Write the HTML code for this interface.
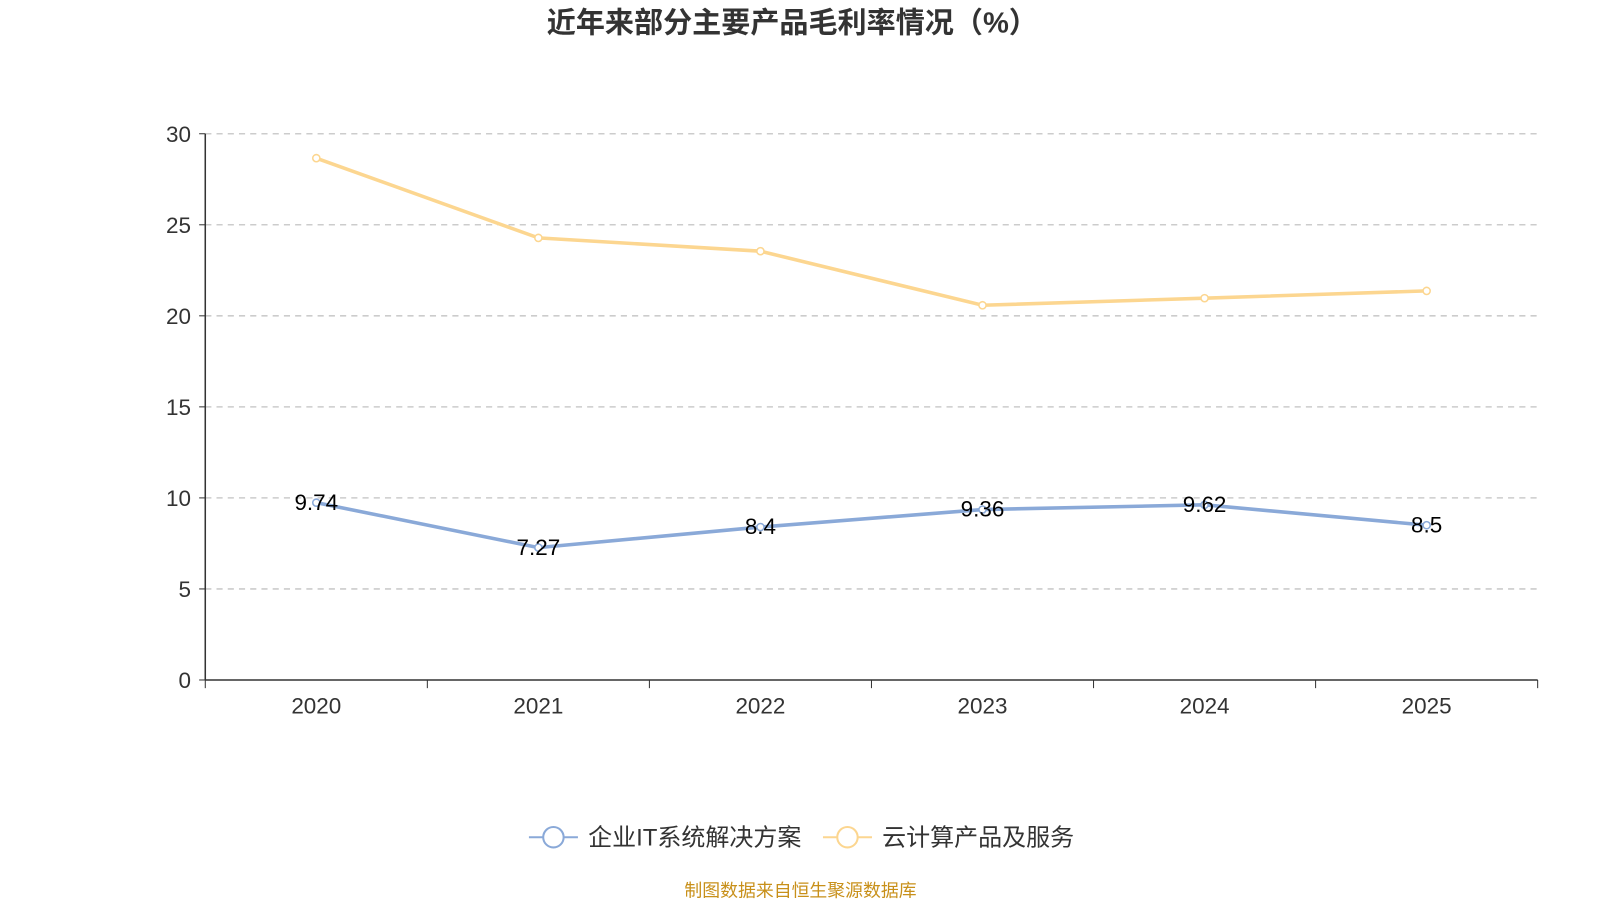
<!DOCTYPE html>
<html><head><meta charset="utf-8"><style>
body{margin:0;background:#fff;font-family:"Liberation Sans","Noto Sans CJK SC",sans-serif}
svg text{font-family:"Liberation Sans","Noto Sans CJK SC",sans-serif}
svg{display:block}
</style></head><body>
<svg id="c" width="1600" height="900" viewBox="0 0 1567 881.5">
<text x="776" y="32" text-anchor="middle" font-size="28.5" font-weight="bold" fill="#333">近年来部分主要产品毛利率情况（%）</text>
<g id="grid"></g><g id="axes"></g><g id="series"></g>
<g>
<g>
<line x1="518" y1="820" x2="566" y2="820" stroke="#8aa9d8" stroke-width="2"/>
<circle cx="542" cy="820" r="10" fill="#fff" stroke="#8aa9d8" stroke-width="2"/>
<text x="576" y="828" font-size="23.5" fill="#333">企业IT系统解决方案</text></g>
<g>
<line x1="806" y1="820" x2="854" y2="820" stroke="#fcd690" stroke-width="2"/>
<circle cx="830" cy="820" r="10" fill="#fff" stroke="#fcd690" stroke-width="2"/>
<text x="864" y="828" font-size="23.5" fill="#333">云计算产品及服务</text></g>
</g>
<text x="784" y="878" text-anchor="middle" font-size="17.5" fill="#c8901a">制图数据来自恒生聚源数据库</text>
</svg>
<script>
const categories=["2020","2021","2022","2023","2024","2025"];
const itValues=[9.74,7.27,8.4,9.36,9.62,8.5];
const cloudValues=[28.66,24.28,23.55,20.58,20.97,21.37];
const yTicks=[0,5,10,15,20,25,30];
const NS="http://www.w3.org/2000/svg";
const L=201,R=1506,T=131,B=666,ymax=30;
const bw=(R-L)/categories.length;
const x=i=>L+bw*(i+0.5);
const y=v=>B-(v/ymax)*(B-T);
function mk(p,t,a){const e=document.createElementNS(NS,t);for(const k in a)e.setAttribute(k,a[k]);p.appendChild(e);return e;}
const g=document.getElementById('grid'),ax=document.getElementById('axes'),s=document.getElementById('series');
yTicks.forEach(v=>{
 if(v>0){const l=mk(g,'line',{x1:L,x2:R,y1:y(v),y2:y(v),stroke:'#ccc','stroke-dasharray':'6,5','stroke-width':1.5});
 
 }
 mk(ax,'line',{x1:L-6,x2:L,y1:y(v),y2:y(v),stroke:'#333'});
 const t=mk(ax,'text',{x:L-14,y:y(v)+8,'text-anchor':'end','font-size':22,fill:'#333'});t.textContent=v;
 
 
});
mk(ax,'line',{x1:L,x2:L,y1:T,y2:B,stroke:'#333','stroke-width':1.5});
mk(ax,'line',{x1:L,x2:R,y1:B,y2:B,stroke:'#333','stroke-width':1.5});
for(let i=0;i<=categories.length;i++)mk(ax,'line',{x1:L+bw*i,x2:L+bw*i,y1:B,y2:B+8,stroke:'#333'});
categories.forEach((c,i)=>{const t=mk(ax,'text',{x:x(i),y:B+33,'text-anchor':'middle','font-size':22,fill:'#333'});t.textContent=c;
 
 });
function series(vals,color,name,labels){
 const p=mk(s,'polyline',{points:vals.map((v,i)=>x(i)+','+y(v)).join(' '),fill:'none',stroke:color,'stroke-width':3.5});
 
 
 vals.forEach((v,i)=>{const c=mk(s,'circle',{cx:x(i),cy:y(v),r:3.5,fill:'#fff',stroke:color,'stroke-width':1.5});
  
  
  if(labels){const t=mk(s,'text',{x:x(i),y:y(v)+7,'text-anchor':'middle','font-size':22,fill:'#000'});t.textContent=v;
  
  }});
}
series(cloudValues,'#fcd690','cloud',false);
series(itValues,'#8aa9d8','it',true);
</script>
</body></html>
